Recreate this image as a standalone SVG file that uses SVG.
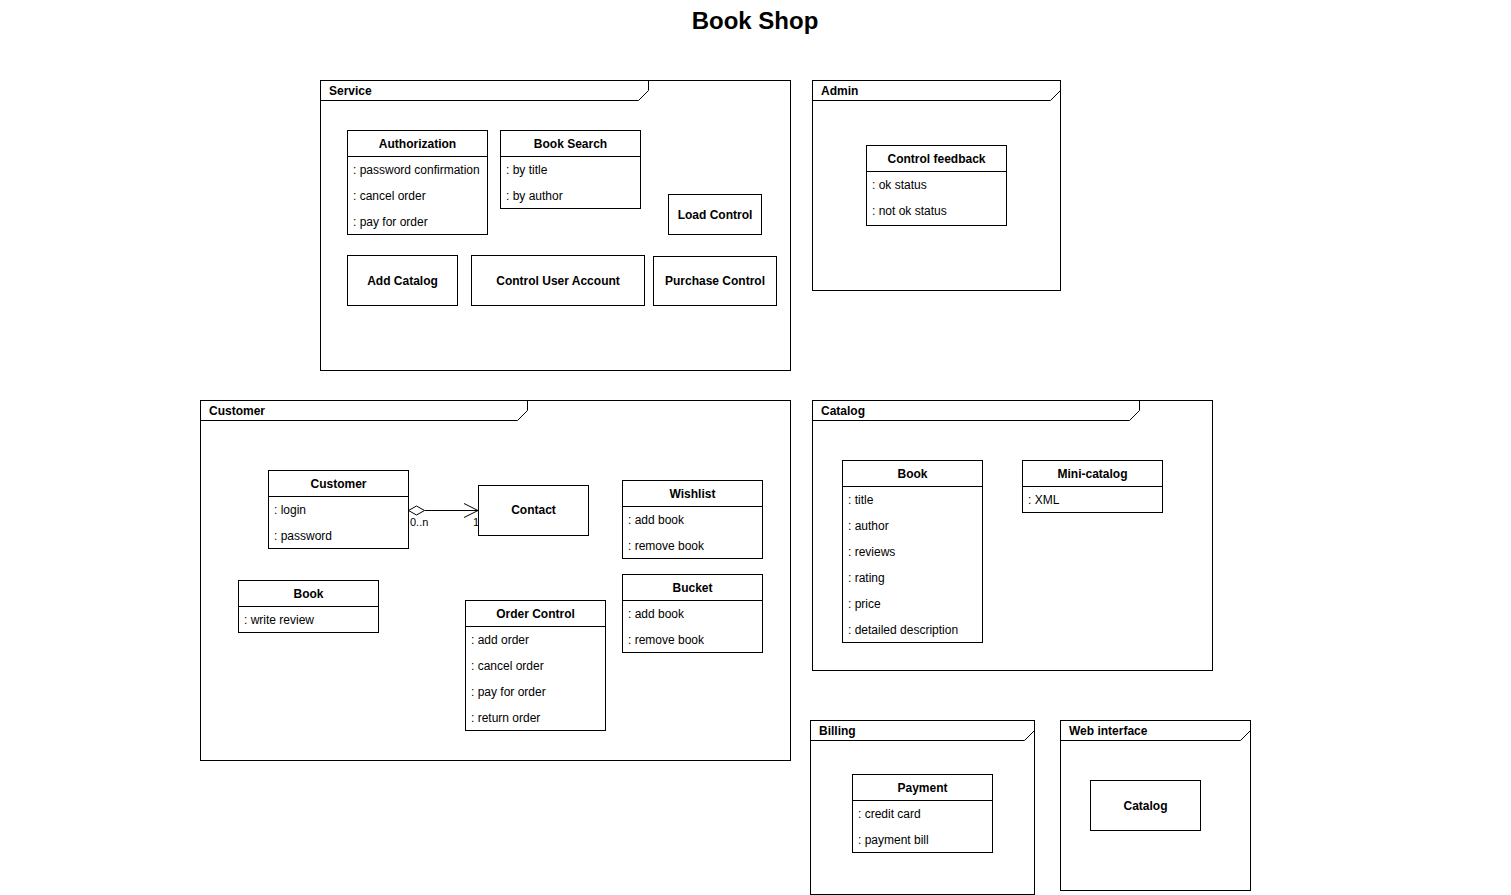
<svg xmlns="http://www.w3.org/2000/svg" width="1511" height="895" viewBox="0 0 1511 895">
<style>
text{font-family:"Liberation Sans",Arial,sans-serif;fill:#000}
.t{font-size:24px;font-weight:bold;text-anchor:middle}
.fl{font-size:12px;font-weight:bold}
.h{font-size:12px;font-weight:bold;text-anchor:middle}
.a{font-size:12px}
.m{font-size:11px}
.box{fill:#fff;stroke:#000;stroke-width:1}
.ln{fill:none;stroke:#000;stroke-width:1}
</style>
<rect width="1511" height="895" fill="#fff"/>
<text class="t" x="755" y="29">Book Shop</text>

<g id="frame-service">
<rect class="box" x="320.5" y="80.5" width="470" height="290"/>
<path class="ln" d="M320.5,100.5 H638.5 L648.5,90.5 V80.5"/>
<text class="fl" x="329" y="95">Service</text>
</g>
<g id="frame-admin">
<rect class="box" x="812.5" y="80.5" width="248" height="210"/>
<path class="ln" d="M812.5,100.5 H1050.5 L1060.5,90.5"/>
<text class="fl" x="821" y="95">Admin</text>
</g>
<g id="frame-customer">
<rect class="box" x="200.5" y="400.5" width="590" height="360"/>
<path class="ln" d="M200.5,420.5 H517.5 L527.5,410.5 V400.5"/>
<text class="fl" x="209" y="415">Customer</text>
</g>
<g id="frame-catalog">
<rect class="box" x="812.5" y="400.5" width="400" height="270"/>
<path class="ln" d="M812.5,420.5 H1129.5 L1139.5,410.5 V400.5"/>
<text class="fl" x="821" y="415">Catalog</text>
</g>
<g id="frame-billing">
<rect class="box" x="810.5" y="720.5" width="224" height="174"/>
<path class="ln" d="M810.5,740.5 H1024.5 L1034.5,730.5"/>
<text class="fl" x="819" y="735">Billing</text>
</g>
<g id="frame-web">
<rect class="box" x="1060.5" y="720.5" width="190" height="170"/>
<path class="ln" d="M1060.5,740.5 H1240.5 L1250.5,730.5"/>
<text class="fl" x="1069" y="735">Web interface</text>
</g>

<g id="authorization">
<rect class="box" x="347.5" y="130.5" width="140" height="104"/>
<line class="ln" x1="347.5" y1="156.5" x2="487.5" y2="156.5"/>
<text class="h" x="417.5" y="148">Authorization</text>
<text class="a" x="353" y="174">: password confirmation</text>
<text class="a" x="353" y="200">: cancel order</text>
<text class="a" x="353" y="226">: pay for order</text>
</g>
<g id="book-search">
<rect class="box" x="500.5" y="130.5" width="140" height="78"/>
<line class="ln" x1="500.5" y1="156.5" x2="640.5" y2="156.5"/>
<text class="h" x="570.5" y="148">Book Search</text>
<text class="a" x="506" y="174">: by title</text>
<text class="a" x="506" y="200">: by author</text>
</g>
<g id="load-control">
<rect class="box" x="668.5" y="194.5" width="93" height="40"/>
<text class="h" x="715" y="219">Load Control</text>
</g>
<g id="add-catalog">
<rect class="box" x="347.5" y="255.5" width="110" height="50"/>
<text class="h" x="402.5" y="285">Add Catalog</text>
</g>
<g id="control-user-account">
<rect class="box" x="471.5" y="255.5" width="173" height="50"/>
<text class="h" x="558" y="285">Control User Account</text>
</g>
<g id="purchase-control">
<rect class="box" x="653.5" y="256.5" width="123" height="49"/>
<text class="h" x="715" y="285">Purchase Control</text>
</g>

<g id="control-feedback">
<rect class="box" x="866.5" y="145.5" width="140" height="80"/>
<line class="ln" x1="866.5" y1="171.5" x2="1006.5" y2="171.5"/>
<text class="h" x="936.5" y="163">Control feedback</text>
<text class="a" x="872" y="189">: ok status</text>
<text class="a" x="872" y="215">: not ok status</text>
</g>

<g id="customer-class">
<rect class="box" x="268.5" y="470.5" width="140" height="78"/>
<line class="ln" x1="268.5" y1="496.5" x2="408.5" y2="496.5"/>
<text class="h" x="338.5" y="488">Customer</text>
<text class="a" x="274" y="514">: login</text>
<text class="a" x="274" y="540">: password</text>
</g>
<g id="contact">
<rect class="box" x="478.5" y="485.5" width="110" height="50"/>
<text class="h" x="533.5" y="514">Contact</text>
</g>
<g id="wishlist">
<rect class="box" x="622.5" y="480.5" width="140" height="78"/>
<line class="ln" x1="622.5" y1="506.5" x2="762.5" y2="506.5"/>
<text class="h" x="692.5" y="498">Wishlist</text>
<text class="a" x="628" y="524">: add book</text>
<text class="a" x="628" y="550">: remove book</text>
</g>
<g id="bucket">
<rect class="box" x="622.5" y="574.5" width="140" height="78"/>
<line class="ln" x1="622.5" y1="600.5" x2="762.5" y2="600.5"/>
<text class="h" x="692.5" y="592">Bucket</text>
<text class="a" x="628" y="618">: add book</text>
<text class="a" x="628" y="644">: remove book</text>
</g>
<g id="customer-book">
<rect class="box" x="238.5" y="580.5" width="140" height="52"/>
<line class="ln" x1="238.5" y1="606.5" x2="378.5" y2="606.5"/>
<text class="h" x="308.5" y="598">Book</text>
<text class="a" x="244" y="624">: write review</text>
</g>
<g id="order-control">
<rect class="box" x="465.5" y="600.5" width="140" height="130"/>
<line class="ln" x1="465.5" y1="626.5" x2="605.5" y2="626.5"/>
<text class="h" x="535.5" y="618">Order Control</text>
<text class="a" x="471" y="644">: add order</text>
<text class="a" x="471" y="670">: cancel order</text>
<text class="a" x="471" y="696">: pay for order</text>
<text class="a" x="471" y="722">: return order</text>
</g>

<g id="catalog-book">
<rect class="box" x="842.5" y="460.5" width="140" height="182"/>
<line class="ln" x1="842.5" y1="486.5" x2="982.5" y2="486.5"/>
<text class="h" x="912.5" y="478">Book</text>
<text class="a" x="848" y="504">: title</text>
<text class="a" x="848" y="530">: author</text>
<text class="a" x="848" y="556">: reviews</text>
<text class="a" x="848" y="582">: rating</text>
<text class="a" x="848" y="608">: price</text>
<text class="a" x="848" y="634">: detailed description</text>
</g>
<g id="mini-catalog">
<rect class="box" x="1022.5" y="460.5" width="140" height="52"/>
<line class="ln" x1="1022.5" y1="486.5" x2="1162.5" y2="486.5"/>
<text class="h" x="1092.5" y="478">Mini-catalog</text>
<text class="a" x="1028" y="504">: XML</text>
</g>

<g id="payment">
<rect class="box" x="852.5" y="774.5" width="140" height="78"/>
<line class="ln" x1="852.5" y1="800.5" x2="992.5" y2="800.5"/>
<text class="h" x="922.5" y="792">Payment</text>
<text class="a" x="858" y="818">: credit card</text>
<text class="a" x="858" y="844">: payment bill</text>
</g>
<g id="web-catalog">
<rect class="box" x="1090.5" y="780.5" width="110" height="50"/>
<text class="h" x="1145.5" y="810">Catalog</text>
</g>

<g id="connectors">
<line class="ln" x1="425" y1="510.5" x2="478" y2="510.5"/>
<path d="M408.5,510.5 L416.5,506 L424.5,510.5 L416.5,515 Z" fill="#fff" stroke="#000"/>
<path class="ln" d="M464,503.5 L478,510.5 L464,517.5"/>
<text class="m" x="410" y="526">0..n</text>
<text class="m" x="473" y="526">1</text>
</g>
</svg>
